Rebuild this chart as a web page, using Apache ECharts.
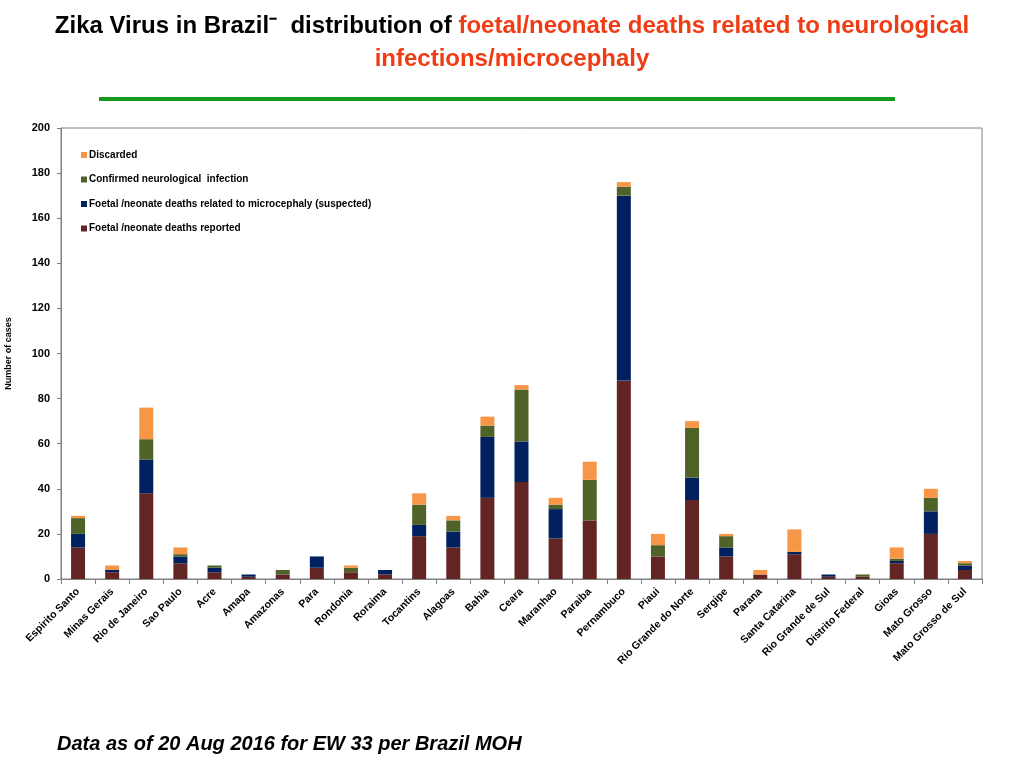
<!DOCTYPE html>
<html><head><meta charset="utf-8">
<script src="https://cdn.jsdelivr.net/npm/echarts@6/dist/echarts.min.js"></script>
<style>html,body{margin:0;padding:0;background:#fff;}#c{width:1024px;height:768px;}</style>
</head><body><div id="c"></div>
<script>
const categories = ['Espirito Santo','Minas Gerais','Rio de Janeiro','Sao Paulo','Acre','Amapa','Amazonas','Para','Rondonia','Roraima','Tocantins','Alagoas','Bahia','Ceara','Maranhao','Paraiba','Pernambuco','Piaui','Rio Grande do Norte','Sergipe','Parana','Santa Catarina','Rio Grande de Sul','Distrito Federal','Gioas','Mato Grosso','Mato Grosso de Sul'];
const deathsReported  = [14,3,38,7,3,1,2,5,3,2,19,14,36,43,18,26,88,10,35,10,2,11,1,1,7,20,4];
const deathsSuspected = [6,1,15,3,2,1,0,5,0,2,5,7,27,18,13,0,82,0,10,4,0,1,1,0,1,10,2];
const confirmedNeuro  = [7,0,9,1,1,0,2,0,2,0,9,5,5,23,2,18,4,5,22,5,0,0,0,1,1,6,1];
const discarded       = [1,2,14,3,0,0,0,0,1,0,5,2,4,2,3,8,2,5,3,1,2,10,0,0,5,4,1];
const yTicks = {min:0, max:200, interval:20};

const chart = echarts.init(document.getElementById('c'));
const font = '"Liberation Sans", Arial, sans-serif';
function bar(name, data, color){
  return {name, type:'bar', stack:'total', data, barWidth:14, itemStyle:{color}, emphasis:{disabled:true}};
}
chart.setOption({
  animation:false,
  textStyle:{fontFamily:font},
  title:[{
    left:'center', top:9,
    text:'{b|Zika Virus in Brazil\u207B  distribution of }{r|foetal/neonate deaths related to neurological}',
    textStyle:{rich:{
      b:{fontFamily:font, fontSize:24, fontWeight:'bold', color:'#000'},
      r:{fontFamily:font, fontSize:24, fontWeight:'bold', color:'#f03c14'}
    }}
  },{
    left:'center', top:42,
    text:'infections/microcephaly',
    textStyle:{fontFamily:font, fontSize:24, fontWeight:'bold', color:'#f03c14'}
  },{
    left:52, top:729,
    text:'Data as of 20 Aug 2016 for EW 33 per Brazil MOH',
    textStyle:{fontFamily:font, fontSize:20, fontWeight:'bold', fontStyle:'italic', color:'#000'}
  }],
  graphic:[{type:'rect', shape:{x:99, y:97, width:796, height:4}, style:{fill:'#169a1c'}}],
  legend:{
    orient:'vertical', left:76, top:145, itemWidth:6, itemHeight:6, itemGap:14.5,
    icon:'rect',
    data:['Discarded','Confirmed neurological  infection','Foetal /neonate deaths related to microcephaly (suspected)','Foetal /neonate deaths reported'],
    textStyle:{fontFamily:font, fontSize:10, fontWeight:'bold', color:'#000', padding:[0,0,0,-3]}
  },
  grid:{left:61, right:42, top:128, bottom:189, containLabel:false, outerBoundsMode:'none', show:true, borderColor:'#808080', borderWidth:1},
  xAxis:{
    type:'category', data:categories,
    axisLine:{lineStyle:{color:'#808080'}},
    axisTick:{show:true, lineStyle:{color:'#808080'}},
    axisLabel:{rotate:45, interval:0, fontFamily:font, fontSize:10.5, fontWeight:'bold', color:'#000', margin:11}
  },
  yAxis:{
    type:'value', min:yTicks.min, max:yTicks.max, interval:yTicks.interval,
    name:'Number of cases', nameLocation:'middle', nameGap:48, nameRotate:90,
    nameTextStyle:{fontFamily:font, fontSize:9, fontWeight:'bold', color:'#000'},
    axisLine:{show:true, lineStyle:{color:'#808080'}},
    axisTick:{show:true, length:4, lineStyle:{color:'#808080'}},
    splitLine:{show:false},
    axisLabel:{fontFamily:font, fontSize:11, fontWeight:'bold', color:'#000', margin:11}
  },
  series:[
    bar('Foetal /neonate deaths reported', deathsReported, '#632523'),
    bar('Foetal /neonate deaths related to microcephaly (suspected)', deathsSuspected, '#002060'),
    bar('Confirmed neurological  infection', confirmedNeuro, '#4f6228'),
    bar('Discarded', discarded, '#f79646')
  ]
});
</script></body></html>
